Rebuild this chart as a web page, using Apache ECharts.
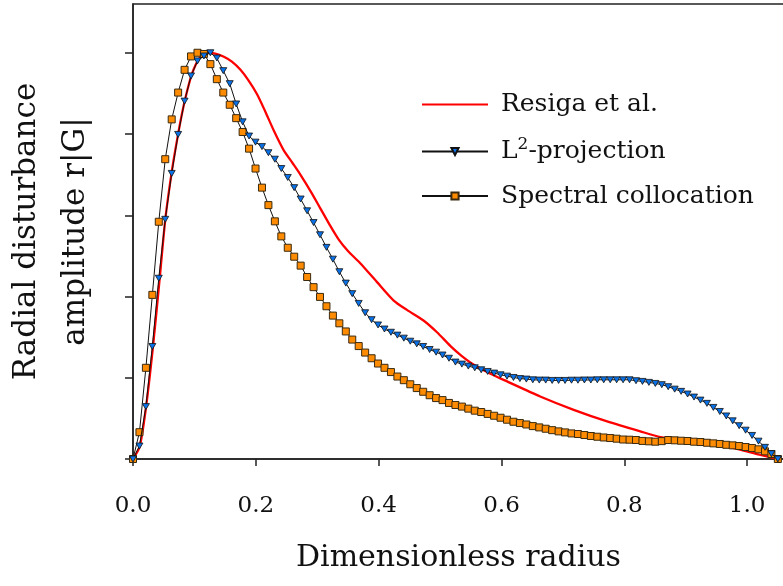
<!DOCTYPE html>
<html><head><meta charset="utf-8">
<script src="https://cdn.jsdelivr.net/npm/echarts@6/dist/echarts.min.js"></script>
<style>html,body{margin:0;padding:0;background:#fff}#c{width:783px;height:586px}</style>
</head><body><div id="c"></div>
<script>
const xTicks = [0, 0.2, 0.4, 0.6, 0.8, 1.0];
const yTicks = [0, 0.2, 0.4, 0.6, 0.8, 1.0];
const seriesNames = ['Resiga et al.', 'L²-projection', 'Spectral collocation'];
const xTitle = 'Dimensionless radius';
const yTitle = 'Radial disturbance\namplitude r|G|';

const gridX = [0, 0.0105, 0.021, 0.0315, 0.042, 0.0525, 0.063, 0.0735, 0.084, 0.0945,
  0.105, 0.1155, 0.126, 0.1365, 0.147, 0.1575, 0.168, 0.1785, 0.189, 0.1995,
  0.21, 0.2205, 0.231, 0.2415, 0.252, 0.2625, 0.273, 0.2835, 0.294, 0.3045,
  0.315, 0.3255, 0.336, 0.3465, 0.357, 0.3675, 0.378, 0.3885, 0.399, 0.4095,
  0.42, 0.4305, 0.441, 0.4515, 0.462, 0.4725, 0.483, 0.4935, 0.504, 0.5145,
  0.525, 0.5355, 0.546, 0.5565, 0.567, 0.5775, 0.588, 0.5985, 0.609, 0.6195,
  0.63, 0.6405, 0.651, 0.6615, 0.672, 0.6825, 0.693, 0.7035, 0.714, 0.7245,
  0.735, 0.7455, 0.756, 0.7665, 0.777, 0.7875, 0.798, 0.8085, 0.819, 0.8295,
  0.84, 0.8505, 0.861, 0.8715, 0.882, 0.8925, 0.903, 0.9135, 0.924, 0.9345,
  0.945, 0.9555, 0.966, 0.9765, 0.987, 0.9975, 1.008, 1.0185, 1.029, 1.0395,
  1.05];

const spectralValues = [0, 0.066, 0.2245, 0.404, 0.584, 0.738, 0.836, 0.902, 0.958, 0.991,
  1.0, 0.997, 0.972, 0.935, 0.902, 0.872, 0.839, 0.805, 0.764, 0.715,
  0.668, 0.625, 0.585, 0.548, 0.520, 0.498, 0.476, 0.448, 0.423, 0.399,
  0.376, 0.353, 0.334, 0.314, 0.294, 0.278, 0.262, 0.248, 0.235, 0.2245,
  0.214, 0.203, 0.194, 0.184, 0.1746, 0.1655, 0.157, 0.150, 0.145, 0.138,
  0.133, 0.129, 0.124, 0.119, 0.1156, 0.111, 0.1065, 0.1016, 0.0967, 0.0917,
  0.0885, 0.085, 0.081, 0.0778, 0.0745, 0.071, 0.068, 0.0655, 0.063, 0.0615,
  0.059, 0.0566, 0.0548, 0.053, 0.0516, 0.050, 0.048, 0.0475, 0.0467, 0.0445,
  0.0435, 0.0426, 0.044, 0.0467, 0.046, 0.045, 0.0443, 0.0426, 0.0418, 0.040,
  0.0385, 0.037, 0.035, 0.0336, 0.032, 0.0295, 0.027, 0.0238, 0.0189, 0.0123,
  0];

const l2Values = [0, 0.032, 0.129, 0.277, 0.445, 0.590, 0.703, 0.799, 0.881, 0.943,
  0.980, 0.992, 1.0, 0.987, 0.956, 0.924, 0.874, 0.83, 0.795, 0.78,
  0.769, 0.754, 0.738, 0.715, 0.693, 0.668, 0.640, 0.611, 0.582, 0.552,
  0.521, 0.492, 0.461, 0.433, 0.407, 0.383, 0.360, 0.343, 0.330, 0.320,
  0.312, 0.305, 0.2975, 0.290, 0.2835, 0.277, 0.2695, 0.263, 0.256, 0.248,
  0.2386, 0.2336, 0.2287, 0.2245, 0.2196, 0.2155, 0.2115, 0.2073, 0.204, 0.2007,
  0.198, 0.1967, 0.195, 0.1943, 0.1943, 0.1934, 0.1934, 0.1934, 0.194, 0.194,
  0.1945, 0.1945, 0.195, 0.195, 0.195, 0.195, 0.195, 0.195, 0.1927, 0.191,
  0.1886, 0.186, 0.183, 0.178, 0.172, 0.1665, 0.160, 0.1525, 0.145, 0.137,
  0.127, 0.117, 0.106, 0.094, 0.082, 0.071, 0.058, 0.044, 0.0287, 0.013,
  0];

const resigaX = [0, 0.0108, 0.021, 0.0326, 0.0435, 0.0526, 0.0635, 0.0717, 0.08, 0.088,
  0.096, 0.107, 0.12, 0.134, 0.148, 0.161, 0.175, 0.188, 0.202, 0.2155,
  0.23, 0.245, 0.26, 0.2725, 0.29, 0.305, 0.32, 0.335, 0.35, 0.37,
  0.397, 0.4245, 0.446, 0.473, 0.495, 0.517, 0.535, 0.555, 0.582, 0.609,
  0.663, 0.7176, 0.772, 0.826, 0.859, 0.9, 0.95, 0.978, 1.02, 1.05];
const resigaY = [0, 0.03, 0.125, 0.277, 0.445, 0.59, 0.711, 0.785, 0.852, 0.905,
  0.948, 0.984, 1.0, 0.998, 0.99, 0.978, 0.958, 0.932, 0.898, 0.855,
  0.806, 0.761, 0.728, 0.700, 0.657, 0.617, 0.577, 0.540, 0.512, 0.482,
  0.436, 0.390, 0.367, 0.341, 0.312, 0.278, 0.254, 0.232, 0.21, 0.191,
  0.154, 0.121, 0.0925, 0.068, 0.054, 0.045, 0.035, 0.027, 0.011, 0];

function pairs(xs, ys) { return xs.map((x, i) => [x, ys[i]]); }

const FONT = 'DejaVu Serif';
const axisColor = '#222';
const clear = 'rgba(0,0,0,0)';

const chart = echarts.init(document.getElementById('c'), null, {renderer: 'canvas'});
chart.setOption({
  animation: false,
  backgroundColor: '#fff',
  grid: {left: 133, right: -1, top: 4, bottom: 127, outerBoundsMode: 'none', containLabel: false,
    show: true, borderColor: axisColor, borderWidth: 1.5, backgroundColor: 'transparent'},
  legend: {
    orient: 'vertical', left: 421, top: 92, padding: 0,
    itemWidth: 66, itemHeight: 9, itemGap: 19.5,
    data: [
      {name: seriesNames[0], itemStyle: {color: clear, borderColor: clear, borderWidth: 0}},
      {name: seriesNames[1]},
      {name: seriesNames[2]}
    ],
    formatter: function (n) { return n === seriesNames[1] ? '{n|L}{s|2}{n|-projection}' : '{n|' + n + '}'; },
    textStyle: {
      fontFamily: FONT, fontSize: 25, color: '#111', padding: [0, 0, 0, 8],
      rich: {
        n: {fontFamily: FONT, fontSize: 25, color: '#111', lineHeight: 30},
        s: {fontFamily: FONT, fontSize: 17, color: '#111', lineHeight: 30, verticalAlign: 'top'}
      }
    }
  },
  xAxis: {
    type: 'value', min: 0, max: 1.06,
    axisLine: {show: true, onZero: false, lineStyle: {color: axisColor, width: 1.5}},
    axisTick: {show: true, customValues: xTicks, length: 7, lineStyle: {color: axisColor, width: 1.5}},
    axisLabel: {customValues: xTicks, formatter: v => v.toFixed(1), fontFamily: FONT, fontSize: 23, color: '#111', margin: 36},
    splitLine: {show: false},
    name: xTitle, nameLocation: 'middle', nameGap: 84,
    nameTextStyle: {fontFamily: FONT, fontSize: 30, color: '#111'}
  },
  yAxis: {
    type: 'value', min: 0, max: 1.12,
    axisLine: {show: true, onZero: false, lineStyle: {color: axisColor, width: 1.5}},
    axisTick: {show: true, customValues: yTicks, length: 8, lineStyle: {color: axisColor, width: 1.5}},
    axisLabel: {show: false},
    splitLine: {show: false},
    name: yTitle, nameLocation: 'middle', nameGap: 33, nameRotate: 90,
    nameTextStyle: {fontFamily: FONT, fontSize: 31, color: '#111', lineHeight: 49, align: 'center'}
  },
  series: [
    {
      name: seriesNames[0], type: 'line', z: 1,
      data: pairs(resigaX, resigaY), smooth: 0.25, showSymbol: false, symbol: 'none',
      lineStyle: {color: '#ff0000', width: 2.3}, itemStyle: {color: '#ff0000'}
    },
    {
      name: seriesNames[1], type: 'line', z: 3,
      data: pairs(gridX, l2Values), symbol: 'triangle', symbolRotate: 180, symbolSize: [7, 6],
      showAllSymbol: true,
      lineStyle: {color: '#111', width: 1},
      itemStyle: {color: '#0a72e8', borderColor: '#111', borderWidth: 0.8}
    },
    {
      name: seriesNames[2], type: 'line', z: 2,
      data: pairs(gridX, spectralValues), symbol: 'rect', symbolSize: 7,
      showAllSymbol: true,
      lineStyle: {color: '#111', width: 1},
      itemStyle: {color: '#ff8c00', borderColor: '#3a2a10', borderWidth: 1}
    }
  ]
});
</script>
</body></html>
